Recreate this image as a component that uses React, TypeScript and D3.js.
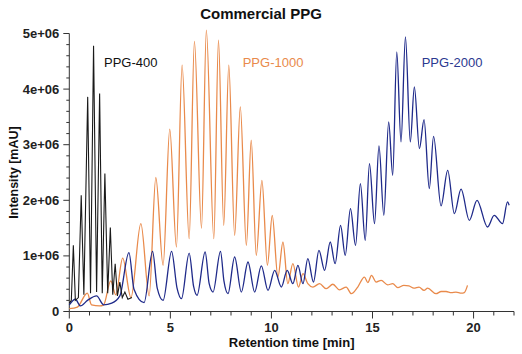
import * as d3 from 'd3';
import React from 'react';

// retention time [min], intensity [1e6 mAU]
const ppg400: [number, number][] = [
  [0, 0.15], [0.1, 0.2], [0.2, 1.19], [0.3, 0.2], [0.45, 0.25], [0.59, 2.09], [0.72, 0.3],
  [0.91, 3.86], [1.05, 0.33], [1.2, 4.78], [1.35, 0.35], [1.5, 3.92], [1.63, 0.33],
  [1.76, 2.48], [1.9, 0.33], [2.03, 1.51], [2.15, 0.3], [2.27, 0.86], [2.38, 0.28],
  [2.5, 0.53], [2.62, 0.25], [2.75, 0.35], [2.9, 0.22], [3.1, 0.25],
];

const ppg1000: [number, number][] = [
  [0, 0.05], [0.4, 0.08], [0.89, 0.33], [1.1, 0.12], [1.5, 0.1], [1.7, 0.12], [2.05, 0.55],
  [2.3, 0.3], [2.64, 0.96], [3.05, 0.25], [3.54, 1.58], [3.95, 0.28], [4.28, 2.41],
  [4.64, 0.83], [4.97, 3.28], [5.3, 1.16], [5.58, 4.43], [5.93, 1.31], [6.19, 4.86],
  [6.54, 1.5], [6.78, 5.06], [7.15, 1.31], [7.38, 4.88], [7.64, 1.55], [7.89, 4.43],
  [8.18, 1.37], [8.46, 3.68], [8.76, 1.19], [9.0, 3.08], [9.25, 1.01], [9.53, 2.36],
  [9.8, 0.83], [10.04, 1.73], [10.32, 0.62], [10.57, 1.25], [10.81, 0.5], [11.06, 0.86],
  [11.34, 0.44], [11.56, 0.68], [11.8, 0.5], [12.05, 0.44], [12.38, 0.5], [12.71, 0.41],
  [13.04, 0.49], [13.37, 0.39], [13.7, 0.44], [13.95, 0.32], [14.27, 0.44], [14.6, 0.62],
  [14.77, 0.52], [14.95, 0.65], [15.18, 0.53], [15.43, 0.56], [15.75, 0.48], [16.0, 0.5],
  [16.25, 0.43], [16.55, 0.47], [16.8, 0.46], [17.05, 0.42], [17.3, 0.44], [17.55, 0.38],
  [17.73, 0.42], [18.14, 0.32], [18.4, 0.36], [18.64, 0.36], [18.9, 0.34], [19.13, 0.35],
  [19.4, 0.33], [19.54, 0.34], [19.7, 0.47],
];

const ppg2000: [number, number][] = [
  [0, 0.12], [0.3, 0.22], [0.55, 0.1], [0.9, 0.2], [1.35, 0.28], [1.7, 0.12], [2.1, 0.15],
  [2.5, 0.28], [2.95, 1.06], [3.2, 0.4], [3.7, 0.16], [4.12, 1.08], [4.35, 0.42], [4.64, 0.2],
  [5.06, 1.08], [5.33, 0.42], [5.55, 0.23], [5.93, 1.05], [6.15, 0.45], [6.32, 0.29],
  [6.72, 1.07], [6.92, 0.5], [7.11, 0.35], [7.48, 1.08], [7.65, 0.55], [7.85, 0.32],
  [8.18, 0.98], [8.51, 0.35], [8.84, 0.89], [9.17, 0.35], [9.5, 0.82], [9.83, 0.38],
  [10.16, 0.74], [10.49, 0.44], [10.78, 0.74], [11.06, 0.5], [11.31, 0.83], [11.56, 0.5],
  [11.8, 0.95], [12.08, 0.53], [12.35, 1.1], [12.63, 0.74], [12.91, 1.25], [13.15, 0.86],
  [13.42, 1.55], [13.65, 1.01], [13.91, 1.85], [14.16, 1.19], [14.4, 2.3], [14.64, 1.28],
  [14.85, 2.66], [15.1, 1.58], [15.32, 2.98], [15.56, 1.73], [15.8, 3.41], [16.0, 2.45],
  [16.2, 4.67], [16.41, 3.05], [16.63, 4.94], [16.87, 3.05], [17.07, 4.04], [17.32, 2.93],
  [17.55, 3.45], [17.81, 2.21], [18.02, 3.15], [18.39, 1.9], [18.72, 2.54], [19.05, 1.76],
  [19.38, 2.2], [19.79, 1.64], [20.17, 2.0], [20.69, 1.52], [21.02, 1.73], [21.43, 1.58],
  [21.68, 1.97], [21.76, 1.91],
];

const xMajor = [0, 5, 10, 15, 20];
const yMajor = [0, 1, 2, 3, 4, 5];
const seriesLabels = ['PPG-400', 'PPG-1000', 'PPG-2000'];

const W = 522;
const H = 354;
const font = "'Liberation Sans', Arial, sans-serif";

export default function App() {
  const x = d3.scaleLinear().domain([0, 22]).range([69.3, 514]);
  const y = d3.scaleLinear().domain([0, 5]).range([311.5, 33.5]);

  const sharp = d3.line<[number, number]>().x((d) => x(d[0])).y((d) => y(d[1]));
  const smooth = d3
    .line<[number, number]>()
    .x((d) => x(d[0]))
    .y((d) => y(d[1]))
    .curve(d3.curveMonotoneX);

  const xMinor = d3.range(0, 23, 1).filter((v) => v % 5 !== 0);
  const yMinor = d3.range(0, 5.001, 0.2).filter((v) => Math.abs(v - Math.round(v)) > 1e-6);
  const fmt = (v: number) => (v === 0 ? '0' : `${v}e+06`);

  const axisColor = '#333';

  return (
    <svg width={W} height={H} style={{ position: 'absolute', left: 0, top: 0, background: '#fff' }}>
      <text x={261} y={18.5} textAnchor="middle" fontFamily={font} fontWeight="bold" fontSize={15} fill="#111">
        Commercial PPG
      </text>

      {/* y axis */}
      <line x1={x(0)} x2={x(0)} y1={y(0)} y2={y(5)} stroke={axisColor} strokeWidth={1} />
      {yMinor.map((v) => (
        <line key={'ym' + v} x1={x(0) - 3} x2={x(0)} y1={y(v)} y2={y(v)} stroke={axisColor} />
      ))}
      {yMajor.map((v) => (
        <g key={'yM' + v}>
          <line x1={x(0) - 6} x2={x(0)} y1={y(v)} y2={y(v)} stroke={axisColor} />
          <text x={x(0) - 10} y={y(v) + 4.5} textAnchor="end" fontFamily={font} fontWeight="bold" fontSize={13} fill="#222">
            {fmt(v)}
          </text>
        </g>
      ))}

      {/* x axis */}
      <line x1={x(0)} x2={x(22)} y1={y(0)} y2={y(0)} stroke={axisColor} strokeWidth={1} />
      {xMinor.map((v) => (
        <line key={'xm' + v} x1={x(v)} x2={x(v)} y1={y(0)} y2={y(0) + 4} stroke={axisColor} />
      ))}
      {xMajor.map((v) => (
        <g key={'xM' + v}>
          <line x1={x(v)} x2={x(v)} y1={y(0)} y2={y(0) + 7} stroke={axisColor} />
          <text x={x(v)} y={y(0) + 20.5} textAnchor="middle" fontFamily={font} fontWeight="bold" fontSize={13} fill="#222">
            {v}
          </text>
        </g>
      ))}

      <text
        transform={`translate(17.5,${(y(0) + y(5)) / 2}) rotate(-90)`}
        textAnchor="middle"
        fontFamily={font}
        fontWeight="bold"
        fontSize={12.5}
        fill="#111"
      >
        Intensity [mAU]
      </text>
      <text x={(x(0) + x(22)) / 2} y={347} textAnchor="middle" fontFamily={font} fontWeight="bold" fontSize={13} fill="#111">
        Retention time [min]
      </text>

      {/* traces */}
      <path d={smooth(ppg1000) || ''} fill="none" stroke="#E98A4B" strokeWidth={1.3} />
      <path d={smooth(ppg2000) || ''} fill="none" stroke="#1F2A8A" strokeWidth={1.3} />
      <path d={sharp(ppg400) || ''} fill="none" stroke="#1a1a1a" strokeWidth={1.1} />

      <text x={104} y={67} fontFamily={font} fontSize={13} fill="#111">{seriesLabels[0]}</text>
      <text x={242.7} y={67} fontFamily={font} fontSize={13} fill="#E98A4B">{seriesLabels[1]}</text>
      <text x={421.7} y={67} fontFamily={font} fontSize={13} fill="#2B3990">{seriesLabels[2]}</text>
    </svg>
  );
}
